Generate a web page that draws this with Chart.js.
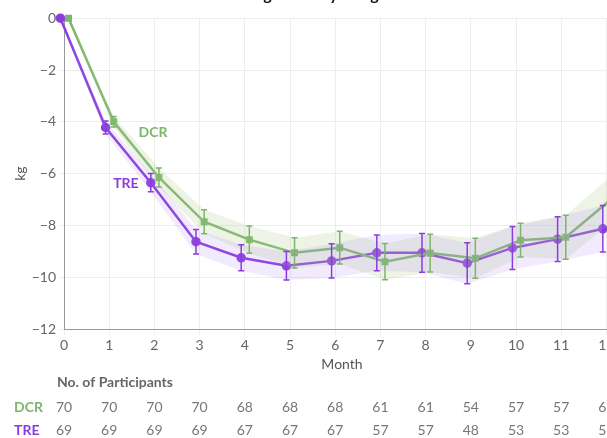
<!DOCTYPE html>
<html>
<head>
<meta charset="utf-8">
<script src="https://cdn.jsdelivr.net/npm/chart.js@4.4.0/dist/chart.umd.min.js"></script>
<style>
  html, body { margin: 0; padding: 0; background: #fff; overflow: hidden; width: 607px; height: 438px; }
  #wrap { position: absolute; left: 0; top: -23px; }
</style>
</head>
<body>
<div id="wrap"><canvas id="weightChart" width="628" height="461"></canvas></div>
<script>
// 데이터
const months = [0, 1, 2, 3, 4, 5, 6, 7, 8, 9, 10, 11, 12];
const dcrMean = [0, -4.0, -6.15, -7.86, -8.55, -9.06, -8.86, -9.4, -9.07, -9.27, -8.57, -8.46, -7.0];
const dcrErr = [0, 0.2, 0.37, 0.46, 0.53, 0.58, 0.63, 0.7, 0.73, 0.77, 0.65, 0.85, 0.9];
const treMean = [0, -4.22, -6.35, -8.63, -9.25, -9.56, -9.37, -9.06, -9.06, -9.46, -8.87, -8.53, -8.13];
const treErr = [0, 0.25, 0.35, 0.47, 0.5, 0.55, 0.66, 0.69, 0.75, 0.79, 0.83, 0.86, 0.9];
const dcrCounts = [70, 70, 70, 70, 68, 68, 68, 61, 61, 54, 57, 57, 60];
const treCounts = [69, 69, 69, 69, 67, 67, 67, 57, 57, 48, 53, 53, 51];

const GREEN = '#7db56b';
const PURPLE = '#8a3ddc';
const FONT = 'Lato, "Open Sans", sans-serif';

// 그룹별로 x 위치를 조금씩 어긋나게
const pts = (vals, shift) => vals.map((v, i) => ({ x: months[i] + shift, y: v }));
const band = (vals, errs, sign, shift) => vals.map((v, i) => ({ x: months[i] + shift, y: v + sign * errs[i] }));

// 오차 막대 + 라벨 + 참가자 수 표
const extras = {
    id: 'extras',
    afterDatasetsDraw(chart) {
        const ctx = chart.ctx;
        const xs = chart.scales.x, ys = chart.scales.y;
        const bars = [[dcrMean, dcrErr, 0.1, GREEN], [treMean, treErr, -0.08, PURPLE]];
        ctx.save();
        bars.forEach(([mean, err, shift, col]) => {
            ctx.strokeStyle = col;
            ctx.lineWidth = 1.5;
            mean.forEach((v, i) => {
                if (!err[i]) return;
                const x = xs.getPixelForValue(months[i] + shift);
                const y1 = ys.getPixelForValue(v + err[i]);
                const y2 = ys.getPixelForValue(v - err[i]);
                ctx.beginPath();
                ctx.moveTo(x, y1); ctx.lineTo(x, y2);
                ctx.moveTo(x - 3, y1); ctx.lineTo(x + 3, y1);
                ctx.moveTo(x - 3, y2); ctx.lineTo(x + 3, y2);
                ctx.stroke();
            });
        });
        // 시리즈 라벨
        ctx.font = 'bold 14px ' + FONT;
        ctx.textAlign = 'center';
        ctx.textBaseline = 'middle';
        ctx.fillStyle = GREEN;
        ctx.fillText('DCR', xs.getPixelForValue(1.97), ys.getPixelForValue(-4.43));
        ctx.fillStyle = PURPLE;
        ctx.fillText('TRE', xs.getPixelForValue(1.37), ys.getPixelForValue(-6.4));
        ctx.restore();
    },
    afterDraw(chart) {
        const ctx = chart.ctx;
        const xs = chart.scales.x;
        const base = chart.chartArea.bottom;
        ctx.save();
        ctx.textBaseline = 'middle';
        ctx.font = 'bold 14px ' + FONT;
        ctx.fillStyle = '#666';
        ctx.textAlign = 'left';
        ctx.fillText('No. of Participants', 57, base + 53);
        ctx.fillStyle = GREEN;
        ctx.fillText('DCR', 14, base + 78);
        ctx.fillStyle = PURPLE;
        ctx.fillText('TRE', 14, base + 101);
        ctx.font = '14px ' + FONT;
        ctx.fillStyle = '#777';
        ctx.textAlign = 'center';
        months.forEach((m, i) => {
            const x = xs.getPixelForValue(m);
            ctx.fillText(String(dcrCounts[i]), x, base + 78);
            ctx.fillText(String(treCounts[i]), x, base + 101);
        });
        ctx.restore();
    }
};

const ctx = document.getElementById('weightChart').getContext('2d');
new Chart(ctx, {
    type: 'line',
    data: {
        datasets: [
            { data: band(treMean, treErr, -1, -0.08), borderWidth: 0, pointRadius: 0, fill: false, backgroundColor: 'rgba(175,130,240,0.16)' },
            { data: band(treMean, treErr, 1, -0.08), borderWidth: 0, pointRadius: 0, fill: '-1', backgroundColor: 'rgba(175,130,240,0.16)' },
            { data: band(dcrMean, dcrErr, -1, 0.1), borderWidth: 0, pointRadius: 0, fill: false, backgroundColor: 'rgba(175,205,140,0.22)' },
            { data: band(dcrMean, dcrErr, 1, 0.1), borderWidth: 0, pointRadius: 0, fill: '-1', backgroundColor: 'rgba(175,205,140,0.22)' },
            {
                label: 'DCR', data: pts(dcrMean, 0.1),
                borderColor: GREEN, backgroundColor: GREEN, borderWidth: 2.5,
                pointStyle: 'rect', pointRadius: 3.2, fill: false
            },
            {
                label: 'TRE', data: pts(treMean, -0.08),
                borderColor: PURPLE, backgroundColor: PURPLE, borderWidth: 2.5,
                pointStyle: 'circle', pointRadius: 3.5, fill: false
            }
        ]
    },
    options: {
        responsive: false,
        animation: false,
        devicePixelRatio: 1,
        clip: false,
        layout: { padding: { left: 0, right: 8, bottom: 63 } },
        plugins: {
            legend: { display: false },
            tooltip: { enabled: false },
            title: {
                display: true,
                text: 'Change in Body Weight',
                color: '#111',
                font: { family: FONT, size: 16, weight: 'bold' },
                padding: { top: 8, bottom: 14 }
            }
        },
        scales: {
            x: {
                type: 'linear', min: 0, max: 12.3,
                afterFit: s => { s.height = 46; },
                ticks: { stepSize: 1, includeBounds: false, color: '#666', padding: 2, font: { family: FONT, size: 14 } },
                grid: { color: '#eeeeee', tickLength: 6 },
                border: { color: '#999' },
                title: { display: true, text: 'Month', color: '#555', padding: { top: 0, bottom: 2 }, font: { family: FONT, size: 14 } }
            },
            y: {
                min: -12, max: 0,
                afterFit: s => { s.width = 64; },
                ticks: {
                    stepSize: 2, color: '#666', padding: 3, font: { family: FONT, size: 14 },
                    callback: v => v < 0 ? '\u2212' + Math.abs(v) : String(v)
                },
                grid: { color: '#eeeeee', tickLength: 5 },
                border: { color: '#999' },
                title: { display: true, text: 'kg', color: '#555', padding: { top: 12, bottom: 0 }, font: { family: FONT, size: 14 } }
            }
        }
    },
    plugins: [extras]
});
</script>
</body>
</html>
